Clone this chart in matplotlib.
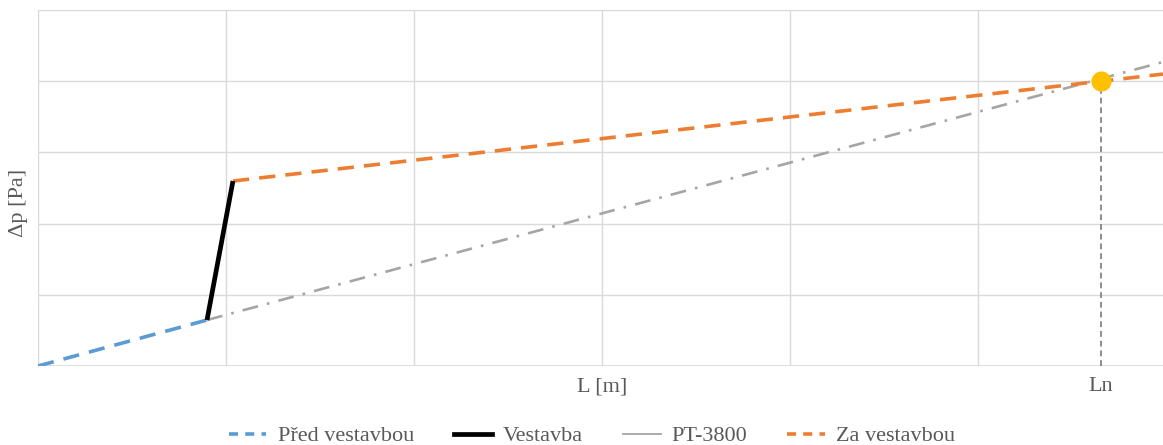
import numpy as np
import matplotlib
matplotlib.use('Agg')
import matplotlib.pyplot as plt
from matplotlib.lines import Line2D

# data (x in grid units, y in grid units)
pred_x = [0.0, 0.899]
pred_y = [0.0, 0.646]
vest_x = [0.899, 1.037]
vest_y = [0.646, 2.598]
pt_x = [0.899, 5.984]
pt_y = [0.646, 4.27]
za_x = [1.037, 5.984]
za_y = [2.598, 4.10]
ln_x = 5.654
ln_y = 4.0

tick_pos = [3.0, ln_x]
tick_labels = ['L [m]', 'Ln']

c_blue = '#5B9BD5'
c_orange = '#ED7D31'
c_gray = '#A5A5A5'
c_text = '#595959'

plt.rcParams['font.family'] = ['Liberation Serif', 'DejaVu Serif']

fig = plt.figure(figsize=(11.63, 4.45), dpi=100)
ax = fig.add_axes([38/1163, 1-366/445, 1125/1163, 356/445])

ax.plot(pt_x, pt_y, color=c_gray, lw=1.9, dashes=(6, 3.5, 1, 3.5), zorder=2)
ax.plot(pred_x, pred_y, color=c_blue, lw=2.6, dashes=(4.5, 2.8), zorder=3)
ax.plot(za_x, za_y, color=c_orange, lw=2.6, dashes=(4.5, 2.8), zorder=3)
ax.plot(vest_x, vest_y, color='black', lw=3.4, solid_capstyle='butt', zorder=4)
ax.plot([ln_x, ln_x], [0, ln_y], color='#8c8c8c', lw=1.4, dashes=(3, 2), zorder=2)
ax.scatter([ln_x], [ln_y], s=210, color='#FFC000', zorder=5, linewidths=0)

ax.set_xlim(0, 5.984)
ax.set_ylim(0, 5)
ax.set_xticks(np.arange(0, 6))
ax.set_yticks(np.arange(0, 6))
ax.grid(True, color='#D9D9D9', lw=1)
ax.set_axisbelow(True)
ax.tick_params(length=0, labelbottom=False, labelleft=False)
for s in ax.spines.values():
    s.set_visible(False)
ax.axhline(0, color='#D9D9D9', lw=1.2, zorder=1)

for p, lab in zip(tick_pos, tick_labels):
    ax.text(p, -0.29, lab, ha='center', va='center', fontsize=16, color=c_text)

ax.set_ylabel('Δp [Pa]', fontsize=16, color=c_text)
ax.yaxis.set_label_coords(-0.0085, 0.458)

handles = [
    Line2D([], [], color=c_blue, lw=2.6, dashes=(2.5, 2)),
    Line2D([], [], color='black', lw=3.4),
    Line2D([], [], color=c_gray, lw=1.3),
    Line2D([], [], color=c_orange, lw=2.6, dashes=(2.5, 2)),
]
labels = ['Před vestavbou', 'Vestavba', 'PT-3800', 'Za vestavbou']
leg = fig.legend(handles, labels, loc='center', bbox_to_anchor=(592/1163, 1-436/445),
                 ncol=4, frameon=False, fontsize=16, handlelength=1.7,
                 handletextpad=0.5, columnspacing=1.8, borderpad=0)
for t in leg.get_texts():
    t.set_color(c_text)

fig.savefig('out.png', dpi=100)
